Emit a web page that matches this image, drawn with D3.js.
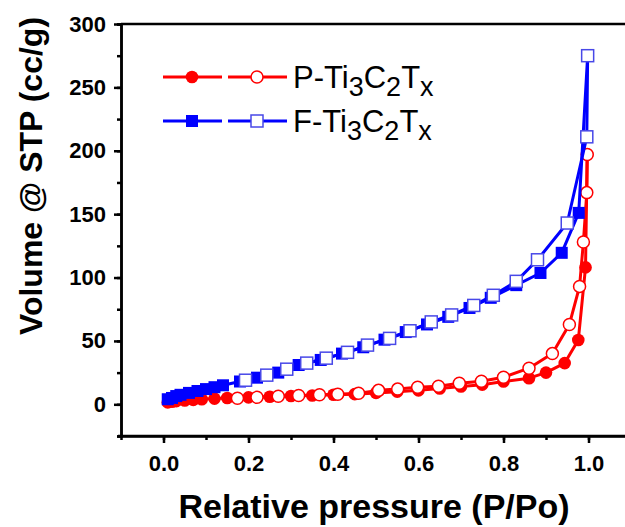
<!DOCTYPE html>
<html>
<head>
<meta charset="utf-8">
<script src="https://cdn.jsdelivr.net/npm/d3@7"></script>
<style>
    body { margin: 0; background: #fff; }
    text { font-family: "Liberation Sans", Arial, sans-serif; }
</style>
</head>
<body>
<div id="chart"></div>
<script>
// P-Ti3C2Tx isotherm (adsorption = filled, desorption = open)
const pAdsX = [0.01, 0.02, 0.03, 0.05, 0.07, 0.09, 0.12, 0.15, 0.2, 0.25, 0.3, 0.35, 0.4, 0.45, 0.5, 0.55, 0.6, 0.65, 0.7, 0.75, 0.8, 0.86, 0.9, 0.944, 0.976, 0.993, 0.997];
const pAdsY = [1.5, 2, 2.5, 3, 3.5, 4, 4.5, 5, 5.5, 6, 6.5, 7, 7.5, 8, 9, 10, 11, 12.5, 14, 15.5, 18, 20.6, 25, 32.5, 50.7, 108, 197];
const pDesX = [0.997, 0.996, 0.988, 0.979, 0.955, 0.915, 0.86, 0.8, 0.748, 0.696, 0.647, 0.598, 0.551, 0.506, 0.459, 0.41, 0.367, 0.318, 0.27, 0.22, 0.174];
const pDesY = [197, 167, 128, 93, 63, 40, 28.5, 21.4, 18.2, 16.6, 14.3, 13.5, 12, 11, 8.7, 8, 7.5, 7, 6.3, 5.5, 4.8];

// F-Ti3C2Tx isotherm
const fAdsX = [0.01, 0.02, 0.03, 0.04, 0.06, 0.08, 0.1, 0.12, 0.14, 0.18, 0.22, 0.27, 0.318, 0.37, 0.42, 0.47, 0.52, 0.57, 0.62, 0.67, 0.72, 0.77, 0.83, 0.887, 0.937, 0.977, 0.998];
const fAdsY = [4, 5, 6.5, 7.5, 9, 10.5, 12, 13.5, 15, 18, 21, 25, 31, 35, 40, 45, 51, 57, 63, 69, 76, 84, 94, 103.6, 119.5, 151, 275];
const fDesX = [0.998, 0.996, 0.95, 0.88, 0.83, 0.776, 0.73, 0.678, 0.63, 0.58, 0.532, 0.48, 0.433, 0.383, 0.337, 0.29, 0.243, 0.193];
const fDesY = [275, 211, 143, 114, 97, 86, 78, 70.5, 65, 58, 52, 46.7, 41, 36.4, 32.5, 27.7, 23, 19];

const xTicks = [0, 0.2, 0.4, 0.6, 0.8, 1.0];
const yTicks = [0, 50, 100, 150, 200, 250, 300];
const legendNames = ["P-Ti3C2Tx", "F-Ti3C2Tx"];

const RED = "#ff0000";
const BLUE = "#0000ff";

IsothermChart = function(_parentElement) {
    this.parentElement = _parentElement;
    this.initVis();
}

IsothermChart.prototype.initVis = function() {
    let vis = this;

    vis.width = 625;
    vis.height = 527;

    vis.svg = d3.select("#" + vis.parentElement)
        .append("svg")
        .attr("width", vis.width)
        .attr("height", vis.height);

    vis.x = d3.scaleLinear().domain([-0.1, 1.1]).range([121, 631]);
    vis.y = d3.scaleLinear().domain([-25, 300]).range([436, 24]);

    vis.wrangleData();
}

IsothermChart.prototype.wrangleData = function() {
    let vis = this;

    const zip = (xs, ys) => xs.map((d, i) => ({ x: d, y: ys[i] }));

    // drawing order: red under blue, open over filled
    vis.series = [
        { pts: zip(pAdsX, pAdsY), color: RED, shape: "circle", open: false },
        { pts: zip(pDesX, pDesY), color: RED, shape: "circle", open: true },
        { pts: zip(fAdsX, fAdsY), color: BLUE, shape: "square", open: false },
        { pts: zip(fDesX, fDesY), color: BLUE, shape: "square", open: true }
    ];

    vis.updateVis();
}

IsothermChart.prototype.drawMarker = function(g, s, cx, cy) {
    let m;
    if (s.shape == "circle") {
        m = g.append("circle").attr("cx", cx).attr("cy", cy).attr("r", s.open ? 6 : 6.3);
    } else {
        m = g.append("rect").attr("x", cx - 6).attr("y", cy - 6).attr("width", 12).attr("height", 12);
    }
    m.attr("fill", s.open ? "#fff" : s.color)
        .attr("stroke", s.open ? (s.shape == "square" ? "#4848e8" : s.color) : "none")
        .attr("stroke-width", 1.5);
}

IsothermChart.prototype.updateVis = function() {
    let vis = this;

    // frame + axes
    vis.svg.append("line")
        .attr("x1", 121).attr("x2", vis.width)
        .attr("y1", 24).attr("y2", 24)
        .attr("stroke", "#000").attr("stroke-width", 2.5);

    let minorY = d3.range(-25, 301, 25);
    let minorX = d3.range(-0.1, 1.11, 0.1);

    let yMinor = vis.svg.append("g").attr("transform", "translate(121,0)")
        .call(d3.axisLeft(vis.y).tickValues(minorY).tickSize(4).tickFormat(""));
    let yAxis = vis.svg.append("g").attr("transform", "translate(121,0)")
        .call(d3.axisLeft(vis.y).tickValues(yTicks).tickSize(7).tickPadding(8).tickSizeOuter(0));

    let xMinor = vis.svg.append("g").attr("transform", "translate(0,436)")
        .call(d3.axisBottom(vis.x).tickValues(minorX).tickSize(4).tickFormat(""));
    let xAxis = vis.svg.append("g").attr("transform", "translate(0,436)")
        .call(d3.axisBottom(vis.x).tickValues(xTicks).tickSize(7).tickPadding(12)
            .tickFormat(d3.format(".1f")).tickSizeOuter(0));

    [yMinor, yAxis, xMinor, xAxis].forEach(function(g) {
        g.select(".domain").attr("stroke-width", 2.5);
        g.selectAll(".tick line").attr("stroke-width", 2.5);
        g.selectAll("text")
            .attr("font-size", 22)
            .attr("font-weight", "bold")
            .attr("fill", "#000");
    });
    xMinor.select(".domain").attr("d", "M118,0H" + vis.width);

    // axis titles
    vis.svg.append("text")
        .attr("x", 374).attr("y", 518)
        .attr("text-anchor", "middle")
        .attr("font-size", 34).attr("font-weight", "bold")
        .text("Relative pressure (P/Po)");

    vis.svg.append("text")
        .attr("transform", "translate(42,176) rotate(-90)")
        .attr("text-anchor", "middle")
        .attr("font-size", 32).attr("font-weight", "bold")
        .text("Volume @ STP (cc/g)");

    // data
    let line = d3.line().x(d => vis.x(d.x)).y(d => vis.y(d.y));

    vis.series.forEach(function(s) {
        let g = vis.svg.append("g");
        g.append("path")
            .datum(s.pts)
            .attr("d", line)
            .attr("fill", "none")
            .attr("stroke", s.color)
            .attr("stroke-width", 3)
            .attr("stroke-linejoin", "round");
        s.pts.forEach(function(d) {
            vis.drawMarker(g, s, vis.x(d.x), vis.y(d.y));
        });
    });

    // legend
    let legend = vis.svg.append("g");
    let rows = [
        { name: legendNames[0], color: RED, shape: "circle", y: 77 },
        { name: legendNames[1], color: BLUE, shape: "square", y: 121 }
    ];
    rows.forEach(function(r) {
        [[163, 222, 192, false], [228, 287, 257, true]].forEach(function(seg) {
            legend.append("line")
                .attr("x1", seg[0]).attr("x2", seg[1])
                .attr("y1", r.y).attr("y2", r.y)
                .attr("stroke", r.color).attr("stroke-width", 3);
            vis.drawMarker(legend, { color: r.color, shape: r.shape, open: seg[3] }, seg[2], r.y);
        });

        // name with subscripts: X-Ti3C2Tx
        let t = legend.append("text")
            .attr("x", 293).attr("y", r.y + 11)
            .attr("font-size", 31);
        let parts = r.name.match(/^(.-Ti)(\d)(C)(\d)(T)(x)$/);
        t.append("tspan").text(parts[1]);
        t.append("tspan").attr("dy", 8).attr("font-size", 27).text(parts[2]);
        t.append("tspan").attr("dy", -8).text(parts[3]);
        t.append("tspan").attr("dy", 8).attr("font-size", 27).text(parts[4]);
        t.append("tspan").attr("dy", -8).text(parts[5]);
        t.append("tspan").attr("dy", 8).attr("font-size", 27).text(parts[6]);
    });
}

new IsothermChart("chart");
</script>
</body>
</html>
